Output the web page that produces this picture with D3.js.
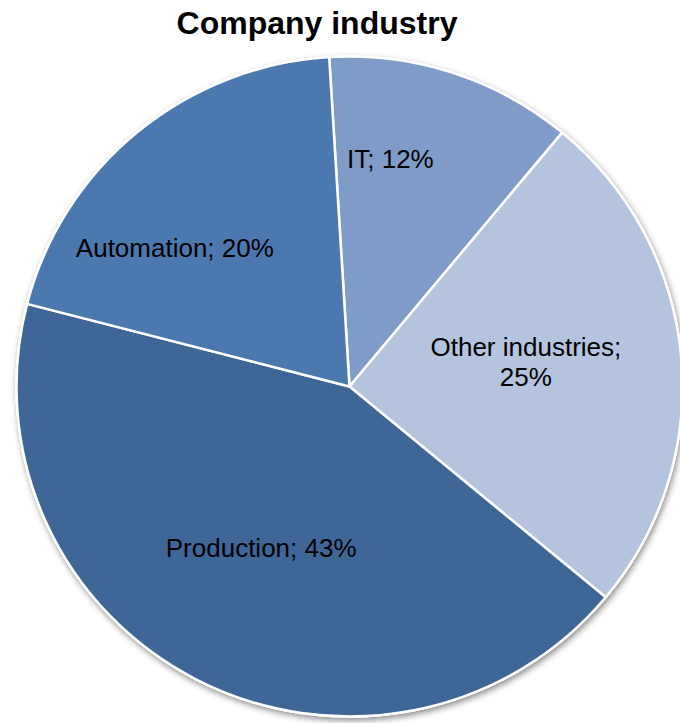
<!DOCTYPE html>
<html>
<head>
<meta charset="utf-8">
<script src="https://cdn.jsdelivr.net/npm/d3@7"></script>
<style>
  html, body { margin: 0; padding: 0; background: #fff; }
  svg { display: block; }
</style>
</head>
<body>
<svg id="chart" width="680" height="723"></svg>
<script>
// Company industry breakdown (percent of respondents)
const categories = ["IT", "Other industries", "Production", "Automation"];
const shares = [12, 25, 43, 20];
const colors = ["#7f9cc9", "#b4c3de", "#3e6697", "#4a78af"];
const titleText = "Company industry";

const W = 680, H = 723;
const cx = 349.5, cy = 386.5, R = 330;
const stretchX = 333 / 330;
const startDeg = -3.5;

// label placement: radius fraction, angle shift (deg) from slice middle, line breaks
const labelLayout = [
  { rf: 0.70, shift: -8.0, lines: d => [`${d.cat}; ${d.v}%`] },
  { rf: 0.535, shift: -2.8, lines: d => [`${d.cat};`, `${d.v}%`] },
  { rf: 0.556, shift: 1.4, lines: d => [`${d.cat}; ${d.v}%`] },
  { rf: 0.673, shift: -11.7, lines: d => [`${d.cat}; ${d.v}%`] }
];

const svg = d3.select("#chart");

const defs = svg.append("defs");
const f = defs.append("filter").attr("id", "pieShadow")
  .attr("x", "-10%").attr("y", "-10%").attr("width", "120%").attr("height", "120%");
f.append("feDropShadow")
  .attr("dx", 1.5).attr("dy", 3).attr("stdDeviation", 3)
  .attr("flood-color", "#000").attr("flood-opacity", 0.45);

svg.append("text")
  .attr("x", 317).attr("y", 34)
  .attr("text-anchor", "middle")
  .attr("font-family", "'Liberation Sans', Arial, sans-serif")
  .attr("font-weight", "bold")
  .attr("font-size", 32)
  .attr("fill", "#000")
  .text(titleText);

const data = categories.map((c, i) => ({ cat: c, v: shares[i], color: colors[i], i }));

const pie = d3.pie()
  .value(d => d.v)
  .sort(null)
  .startAngle(startDeg * Math.PI / 180)
  .endAngle((startDeg + 360) * Math.PI / 180);

const arcs = pie(data);
const arc = d3.arc().innerRadius(0).outerRadius(R);

const g = svg.append("g").attr("transform", `translate(${cx},${cy})`);
const pieG = g.append("g").attr("transform", `scale(${stretchX},1)`);

// shadowed base disc so the shadow sits under the whole pie
pieG.append("circle")
  .attr("r", R + 1)
  .attr("fill", "#fff")
  .attr("filter", "url(#pieShadow)");

pieG.selectAll("path.slice")
  .data(arcs)
  .join("path")
  .attr("class", "slice")
  .attr("d", arc)
  .attr("fill", d => d.data.color)
  .attr("stroke", "#fff")
  .attr("stroke-width", 2.5)
  .attr("stroke-linejoin", "round");

const fontSize = 26;
const lineH = 30;

g.selectAll("text.lbl")
  .data(arcs)
  .join("text")
  .attr("class", "lbl")
  .attr("text-anchor", "middle")
  .attr("font-family", "'Liberation Sans', Arial, sans-serif")
  .attr("font-size", fontSize)
  .attr("fill", "#000")
  .each(function(d) {
    const L = labelLayout[d.data.i];
    const mid = (d.startAngle + d.endAngle) / 2 + L.shift * Math.PI / 180;
    const r = R * L.rf;
    const x = r * Math.sin(mid) * stretchX;
    const y = -r * Math.cos(mid);
    const lines = L.lines(d.data);
    const t = d3.select(this);
    const y0 = y - (lines.length - 1) * lineH / 2 + fontSize * 0.36;
    lines.forEach((s, k) => {
      t.append("tspan").attr("x", x).attr("y", y0 + k * lineH).text(s);
    });
  });
</script>
</body>
</html>
